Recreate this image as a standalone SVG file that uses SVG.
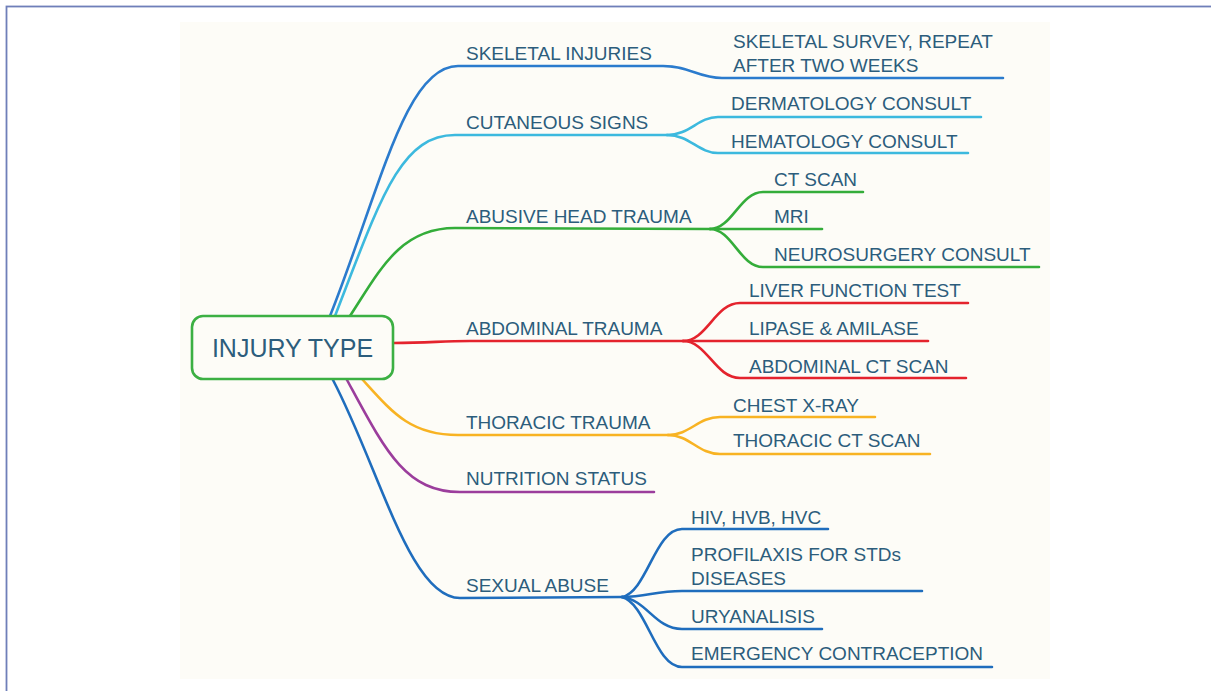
<svg xmlns="http://www.w3.org/2000/svg" width="1211" height="691" viewBox="0 0 1211 691">
<style>
.t{font-family:"Liberation Sans",Arial,sans-serif;font-size:19px;fill:#2c5d7c}
.c{fill:none;stroke-width:2.6;stroke-linecap:round;stroke-linejoin:round}
.blue{stroke:#2b7bcd}
.cyan{stroke:#3cb9de}
.green{stroke:#34ad3a}
.red{stroke:#e4232d}
.orange{stroke:#f8b323}
.purple{stroke:#9b3d9c}
.blue2{stroke:#1f6dbd}
</style>
<rect x="0" y="0" width="1211" height="691" fill="#ffffff"/>
<rect x="6.5" y="6.5" width="1230" height="700" fill="none" stroke="#6f7fb9" stroke-width="1.8"/>
<rect x="180" y="22" width="870" height="657" fill="#fdfcf7"/>
<g id="connectors">
<path class="c blue" d="M330,316 C380,190 405,66 458,66 L663,66 C690,66 698,78 722,78 L1003,78"/>
<path class="c cyan" d="M335,316 C380,200 400,135 455,135 L667,135"/>
<path class="c cyan" d="M667,135 C690,135 698,117 718,117 L981,117"/>
<path class="c cyan" d="M667,135 C690,135 698,153 718,153 L968,153"/>
<path class="c green" d="M350,316 C380,270 400,228 455,228 L710,229"/>
<path class="c green" d="M710,229 C732,229 740,192 763,192 L863,192"/>
<path class="c green" d="M710,229 L822,229"/>
<path class="c green" d="M710,229 C732,229 740,267 763,267 L1039,267"/>
<path class="c red" d="M393,343 C430,343 440,341 470,341 L683,341"/>
<path class="c red" d="M683,341 C707,341 715,303 740,303 L968,303"/>
<path class="c red" d="M683,341 L928,341"/>
<path class="c red" d="M683,341 C707,341 715,378 740,378 L966,378"/>
<path class="c orange" d="M362,379 C392,412 410,435 458,435 L668,435"/>
<path class="c orange" d="M668,435 C690,435 698,417 720,417 L875,417"/>
<path class="c orange" d="M668,435 C690,435 698,454 720,454 L930,454"/>
<path class="c purple" d="M347,380 C385,450 405,492 460,492 L654,492"/>
<path class="c blue2" d="M333,380 C380,470 410,598 460,598 L622,597"/>
<path class="c blue2" d="M622,597 C647,592 655,529 682,529 L828,529"/>
<path class="c blue2" d="M622,597 C647,597 655,591 682,591 L922,591"/>
<path class="c blue2" d="M622,597 C647,600 655,629 682,629 L822,629"/>
<path class="c blue2" d="M622,597 C647,604 655,667 682,667 L992,667"/>
</g>
<g id="root">
<rect x="192" y="316" width="201" height="63" rx="11" fill="#fdfcf7" stroke="#3cb043" stroke-width="2.6"/>
<text class="t" x="292.5" y="357" text-anchor="middle" style="font-size:25px">INJURY TYPE</text>
</g>
<g id="skeletal"><text class="t" x="466" y="59.5">SKELETAL INJURIES</text></g>
<g id="skeletal-survey"><text class="t" x="733" y="47.5">SKELETAL SURVEY, REPEAT</text><text class="t" x="733" y="71.5">AFTER TWO WEEKS</text></g>
<g id="cutaneous"><text class="t" x="466" y="128.5">CUTANEOUS SIGNS</text></g>
<g id="dermatology"><text class="t" x="731" y="110">DERMATOLOGY CONSULT</text></g>
<g id="hematology"><text class="t" x="731" y="147.5">HEMATOLOGY CONSULT</text></g>
<g id="head"><text class="t" x="466" y="222.5">ABUSIVE HEAD TRAUMA</text></g>
<g id="ct"><text class="t" x="774" y="185.5">CT SCAN</text></g>
<g id="mri"><text class="t" x="774" y="223">MRI</text></g>
<g id="neuro"><text class="t" x="774" y="260.5">NEUROSURGERY CONSULT</text></g>
<g id="abdominal"><text class="t" x="466" y="334.5">ABDOMINAL TRAUMA</text></g>
<g id="liver"><text class="t" x="749" y="297">LIVER FUNCTION TEST</text></g>
<g id="lipase"><text class="t" x="749" y="335">LIPASE &amp; AMILASE</text></g>
<g id="abdct"><text class="t" x="749" y="372.5">ABDOMINAL CT  SCAN</text></g>
<g id="thoracic"><text class="t" x="466" y="428.5">THORACIC TRAUMA</text></g>
<g id="chest"><text class="t" x="733" y="411.5">CHEST X-RAY</text></g>
<g id="thorct"><text class="t" x="733" y="447">THORACIC CT SCAN</text></g>
<g id="nutrition"><text class="t" x="466" y="485">NUTRITION STATUS</text></g>
<g id="sexual"><text class="t" x="466" y="592">SEXUAL ABUSE</text></g>
<g id="hiv"><text class="t" x="691" y="523.5">HIV, HVB, HVC</text></g>
<g id="profilaxis"><text class="t" x="691" y="561">PROFILAXIS FOR STDs</text><text class="t" x="691" y="584.5">DISEASES</text></g>
<g id="uryanalisis"><text class="t" x="691" y="623">URYANALISIS</text></g>
<g id="emergency"><text class="t" x="691" y="660">EMERGENCY CONTRACEPTION</text></g>
</svg>
